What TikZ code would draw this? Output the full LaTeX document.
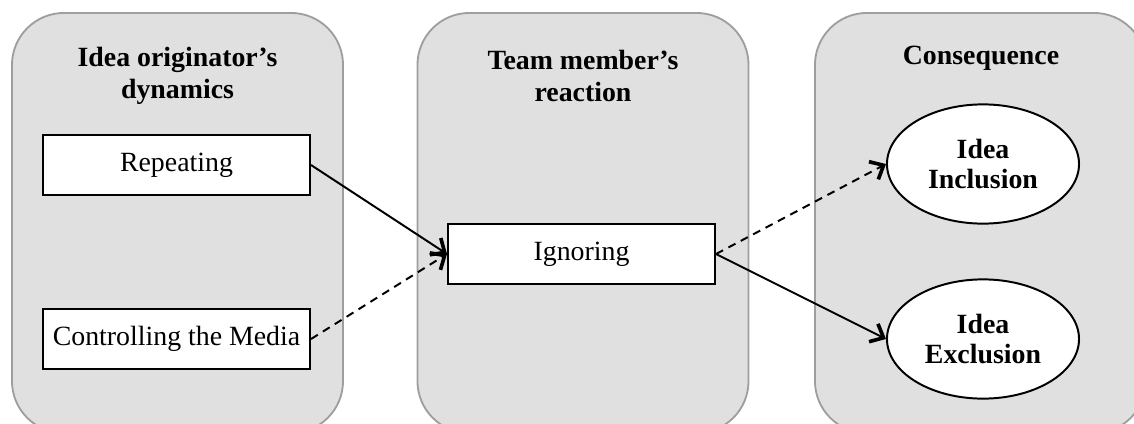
\documentclass[tikz,border=0pt]{standalone}
\usepackage{fontspec}
\setmainfont{Liberation Serif}
\usetikzlibrary{arrows.meta,positioning,shapes.geometric}
\definecolor{panelgray}{RGB}{224,224,224}
\definecolor{panelline}{RGB}{158,158,158}

\begin{document}
\begin{tikzpicture}[x=0.025cm, y=-0.025cm,
    every node/.style={font=\fontsize{19.8}{22.7}\selectfont, align=center},
    panel/.style={draw=panelline, fill=panelgray, line width=1.3pt, rounded corners=1.3cm,
        minimum width=8.275cm, minimum height=10.5cm},
    head/.style={font=\fontsize{19.8}{22.7}\selectfont\bfseries},
    stepbox/.style={draw, fill=white, line width=1.4pt, minimum width=6.675cm, minimum height=1.5cm},
    outcome/.style={draw, ellipse, fill=white, line width=1.4pt, minimum width=4.8cm,
        minimum height=2.98cm, font=\fontsize{19.8}{22}\selectfont\bfseries},
    arr/.style={-{Straight Barb[length=0.28cm, width=0.5cm, line width=2.6pt]}, line width=1.4pt},
    darr/.style={arr, dash pattern=on 0.2cm off 0.15cm}
]
\clip (0,0) rectangle (1134,423);

% Background columns
\node[panel] (colorig) at (177.5, 223) {};
\node[panel] (colteam) at (583, 223) {};
\node[panel] (colcons) at (980.5, 223) {};

% Column headings
\node[head] (horig) at (177.5, 76) {Idea originator's\\dynamics};
\node[head] (hteam) at (583, 76) {Team member's\\reaction};
\node[head] (hcons) at (981, 58) {Consequence};

% Originator behaviours
\node[stepbox] (repeat)  at (176.5, 165) {Repeating};
\node[stepbox] (control) at (176.5, 339) {Controlling the Media};

% Team reaction
\node[stepbox] (ignore) at (581.5, 254) {Ignoring};

% Outcomes
\node[outcome] (incl) at (983, 164) {Idea\\Inclusion};
\node[outcome] (excl) at (983, 339) {Idea\\Exclusion};

% Arrows
\draw[arr]  (repeat.east)  -- (ignore.west);
\draw[darr] (control.east) -- (ignore.west);
\draw[darr] (ignore.east)  -- (incl.west);
\draw[arr]  (ignore.east)  -- (excl.west);
\end{tikzpicture}
\end{document}
